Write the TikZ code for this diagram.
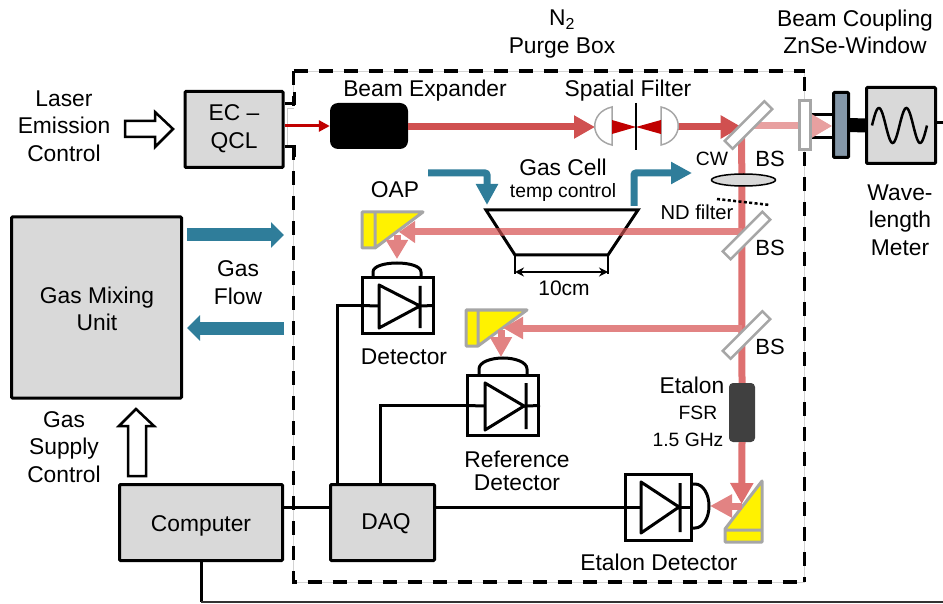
\documentclass[tikz,border=0pt]{standalone}
\usepackage{fontspec}
\setmainfont{Liberation Sans}
\usetikzlibrary{arrows.meta,shapes.geometric}

\definecolor{boxgray}{HTML}{D9D9D9}
\definecolor{beamdark}{HTML}{D05050}
\definecolor{beamfull}{HTML}{DE7070}
\definecolor{beamlight}{HTML}{E28383}
\definecolor{beampale}{HTML}{E8A0A0}
\definecolor{beamcross}{HTML}{8A3535}
\definecolor{laserred}{HTML}{C00000}
\definecolor{gasblue}{HTML}{2F7D9A}
\definecolor{optgray}{HTML}{A6A6A6}
\definecolor{couplerblue}{HTML}{8497A8}

\tikzset{
  lbl/.style={font=\fontsize{22.8}{27.7}\selectfont,align=center,inner sep=0pt},
  lblsmall/.style={font=\fontsize{19.3}{23}\selectfont,align=center,inner sep=0pt},
  block/.style={draw,fill=boxgray,line width=3pt,rounded corners=1pt},
  wire/.style={line width=3pt},
  det/.style={draw,fill=white,line width=3pt},
  splitter/.style={draw=optgray,fill=white,line width=2.5pt,rotate=45,minimum width=56pt,minimum height=11pt,inner sep=0pt},
  mirror/.style={draw=optgray,fill=yellow,line width=3pt,line join=round},
  lens/.style={draw=optgray,fill=white,line width=1.5pt},
  beam/.style={line width=7pt,-{Triangle[length=21pt,width=22pt]}},
  gasline/.style={line width=7pt,gasblue,rounded corners=2pt,-{Triangle[length=21pt,width=21pt]}},
  gasflow/.style={line width=13pt,gasblue,-{Triangle[length=13pt,width=25pt]}},
  openarrow/.style={draw,fill=white,line width=2.5pt,line join=miter},
  purge/.style={line width=3.5pt,dash pattern=on 14pt off 11pt}
}

\begin{document}
\begin{tikzpicture}[x=1pt,y=-1pt,>={Stealth[length=9pt,width=9pt]}]
\useasboundingbox (0,0) rectangle (943,604);

\draw[optgray!50,line width=.8pt] (293.5,71) rectangle (804.5,582);
\draw[purge] (293.5,71) -- (293.5,582) -- (804.5,582);
\draw[purge] (293.5,71) -- (804.5,71);
\draw[purge] (804.5,77) -- (804.5,582);
\fill[white] (290,106) rectangle (298,145);

\node[block,minimum width=98pt,minimum height=76pt] at (234,129.5) (ecqcl) {};
\node[lbl] at (234,129) {EC --\\QCL};
\node[block,minimum width=170pt,minimum height=181pt] at (96.5,307.5) (gasmix) {};
\node[lbl] at (97,309) {Gas Mixing\\Unit};
\node[block,minimum width=163pt,minimum height=76pt] at (201,522.5) (computer) {};
\node[lbl] at (201,526) {Computer};
\node[block,minimum width=104pt,minimum height=76pt] at (382.5,522.5) (daq) {};
\node[lbl] at (386,524) {DAQ};
\node[block,minimum width=69pt,minimum height=76pt] at (901,125.5) (meter) {};
\node[draw,fill=couplerblue,line width=3pt,rounded corners=1pt,minimum width=15pt,minimum height=65pt] at (841,125) (coupler) {};
\node[fill=black,rounded corners=8pt,minimum width=78pt,minimum height=46pt] at (369,126) (expander) {};
\node[fill=black!75,rounded corners=4pt,minimum width=26pt,minimum height=59pt] at (742,412.5) (etalon) {};

\coordinate (tabA) at (294,104);
\coordinate (tabB) at (294,147);
\coordinate (hitA) at (741.7,127);
\coordinate (hitB) at (741.7,232);
\coordinate (hitC) at (741.7,328);
\coordinate (hitD) at (741.7,504);
\coordinate (oapA) at (399,232);
\coordinate (oapB) at (503,328);
\coordinate (lensA) at (595,127);
\coordinate (lensB) at (677,127);
\coordinate (outA) at (832,126);
\coordinate (outB) at (943,123);
\coordinate (corner) at (201,602);
\coordinate (edge) at (943,602);

\draw[wire] (ecqcl.east |- tabA) -- (tabA) -- (294,92);
\draw[wire] (ecqcl.east |- tabB) -- (tabB) -- (294,157);
\draw[optgray!60,line width=.8pt] (294,108) -- (287,108) -- (287,145);
\draw[line width=3pt,laserred,-{Triangle[length=11pt,width=11pt]}] (ecqcl.east |- expander) -- (expander.west);

\draw[beam,beamdark] (expander.east |- lensA) -- (lensA);
\draw[beam,beamdark] (lensB) -- (hitA);
\draw[beam,beampale] (hitA |- outA) -- (outA);

\draw[line width=7pt,beamfull] (hitA) -- (etalon.north);
\draw[beam,beamfull] (etalon.south) -- (hitD);

\draw[mirror] (362,212) -- (423,212) -- (375,248) -- (362,248) -- cycle (375,212) -- (375,248);
\draw[mirror] (466,310) -- (527,310) -- (478,346) -- (466,346) -- cycle (478,310) -- (478,346);
\draw[mirror] (762,481) -- (762,542) -- (725,542) -- (725,529) -- cycle (725,530) -- (762,530);

\draw[line width=3pt] (486,210) -- (638,210) -- (608,255) -- (515,255) -- cycle;
\draw[line width=1.5pt] (515,255) -- (515,274) (608,255) -- (608,274);
\draw[<->,line width=2.5pt] (515,272) -- (608,272);
\node[lbl,font=\fontsize{21}{25}\selectfont] at (564,288) (lenlabel) {10cm};

\draw[beam,beamlight,-{Triangle[length=16pt,width=21pt]}] (hitB) -- (oapA);
\draw[beam,beamlight,-{Triangle[length=20pt,width=21pt]}] (hitC) -- (oapB);
\draw[beam,beamlight,-{Triangle[length=19pt,width=21pt]}] (397,235) -- (397,259);
\draw[beam,beamlight,-{Triangle[length=20pt,width=21pt]}] (501,330) -- (501,357);
\draw[beam,beamlight,-{Triangle[length=22pt,width=22pt]}] (hitD |- 0,506) -- (710,506);
\begin{scope}
\clip (450,228.5) rectangle (700,235.5);
\draw[line width=3pt,beamcross] (486,210) -- (515,255) (638,210) -- (608,255);
\end{scope}

\draw[lens] (612,107) .. controls (589,112) and (589,140) .. (612,145) -- cycle;
\draw[lens] (661,107) .. controls (684,112) and (684,140) .. (661,145) -- cycle;
\fill[laserred] (612,120) -- (636,127) -- (661,120) -- (661,134) -- (636,127) -- (612,134) -- cycle;
\draw[line width=1.5pt] (636,103) -- (636,150);

\node[splitter] at (748.5,125) (bsA) {};
\node[splitter] at (746.5,235.5) (bsB) {};
\node[splitter] at (746.5,335) (bsC) {};

\node[ellipse,draw,fill=boxgray,line width=1.5pt,minimum width=64pt,minimum height=12pt,inner sep=0pt] at (743.5,180) (cwlens) {};
\draw[line width=2.5pt,dash pattern=on 3pt off 2.4pt] (717,199) -- (770,205);

\node[draw=optgray,fill=white,line width=3pt,minimum width=11pt,minimum height=49pt,inner sep=0pt] at (804.5,125) (window) {};
\draw[wire] ([yshift=10pt]window.east) -- ([yshift=10pt]coupler.west);
\draw[wire] ([yshift=-13pt]window.east) -- ([yshift=-13pt]coupler.west);
\draw[beam,beampale,-{Triangle[length=20pt,width=22pt]}] (window.east |- outA) -- (outA);
\draw[line width=14pt] (coupler.east) -- (meter.west);
\draw[wire] (meter.east |- outB) -- (outB);
\draw[line width=2.5pt] plot[domain=0:2,samples=60,smooth] ({872+27.5*\x},{125.5-17.5*sin(360*\x)});

\draw[gasline] (428,173) -- (487,173) -- (487,205);
\draw[gasline] (634,206) -- (634,173) -- (692,173);
\draw[gasflow] (187,235) -- (284,235);
\draw[gasflow] (284,328) -- (187,328);

\draw[openarrow] (125,121) -- (155,121) -- (155,112) -- (173,129) -- (155,147) -- (155,137) -- (125,137) -- cycle;
\draw[openarrow] (128,476) -- (128,426) -- (119,426) -- (136,409) -- (154,426) -- (146,426) -- (146,476) -- cycle;

\node[det,minimum width=71pt,minimum height=55pt] at (397.5,305.5) (detA) {};
\draw[wire] (detA.west) -- (379,306) (420,306) -- (detA.east);
\draw[wire,line join=round] (379,285) -- (420,306) -- (379,328) -- cycle (420,286) -- (420,328);
\draw[wire] (373,278) -- (373,272) .. controls (373,266) and (385,263) .. (397,263) .. controls (409,263) and (421,266) .. (421,272) -- (421,278);

\node[det,minimum width=71pt,minimum height=60pt] at (503,405.5) (detB) {};
\draw[wire] (detB.west) -- (485,406) (526,406) -- (detB.east);
\draw[wire,line join=round] (485,383) -- (524,406) -- (485,430) -- cycle (526,383) -- (526,429);
\draw[wire] (479,375) -- (479,369) .. controls (479,362) and (491,358) .. (503,358) .. controls (515,358) and (527,362) .. (527,369) -- (527,375);

\node[det,minimum width=66pt,minimum height=66pt] at (658,507) (detC) {};
\draw[wire] (detC.west) -- (641,507) (680,507) -- (detC.east);
\draw[wire,line join=round] (641,482) -- (679,507) -- (641,533) -- cycle (680,483) -- (680,532);
\draw[wire] (691,484) -- (695,484) .. controls (703,484) and (709,494) .. (709,506) .. controls (709,518) and (703,528) .. (695,528) -- (691,528);

\draw[wire] (daq.north -| 337.5,0) |- (detA.west);
\draw[wire] (daq.north -| 380,0) |- (detB.west);
\draw[wire] (daq.east |- detC.west) -- (detC.west);
\draw[wire] (computer.east |- detC.west) -- (daq.west |- detC.west);
\draw[wire] (computer.south) -- (corner);
\draw[line width=2pt,black!80] (corner) -- (edge);

\node[lbl] at (562,34) (purgelabel) {N\textsubscript{2}\\Purge Box};
\node[lbl] at (855,32) (couplinglabel) {Beam Coupling\\ZnSe-Window};
\node[lbl] at (64,126) (laserlabel) {Laser\\Emission\\Control};
\node[lbl] at (425,91) (expanderlabel) {Beam Expander};
\node[lbl] at (628,91) (filterlabel) {Spatial Filter};
\node[lbl] at (563,167) (celllabel) {Gas Cell};
\node[lblsmall] at (563,193) (templabel) {temp control};
\node[lblsmall] at (712,159) (cwlabel) {CW};
\node[lblsmall,font=\fontsize{20.2}{24}\selectfont] at (697,212) (ndlabel) {ND filter};
\node[lbl,font=\fontsize{22}{26}\selectfont] at (770,159) (bslabelA) {BS};
\node[lbl,font=\fontsize{22}{26}\selectfont] at (770,248) (bslabelB) {BS};
\node[lbl,font=\fontsize{22}{26}\selectfont] at (770,347) (bslabelC) {BS};
\node[lbl] at (395,190) (oaplabel) {OAP};
\node[lbl] at (900,220) (meterlabel) {Wave-\\length\\Meter};
\node[lbl] at (238,283) (flowlabel) {Gas\\Flow};
\node[lbl] at (64,447) (supplylabel) {Gas\\Supply\\Control};
\node[lbl] at (404,357) (detlabelA) {Detector};
\node[lbl,font=\fontsize{22.8}{23.5}\selectfont] at (517,471) (detlabelB) {Reference\\Detector};
\node[lbl] at (659,562) (detlabelC) {Etalon Detector};
\node[lbl] at (692,385) (etalonlabel) {Etalon};
\node[lblsmall] at (698,413) (fsrlabel) {FSR};
\node[lblsmall] at (688,440) (ghzlabel) {1.5 GHz};

\end{tikzpicture}
\end{document}
